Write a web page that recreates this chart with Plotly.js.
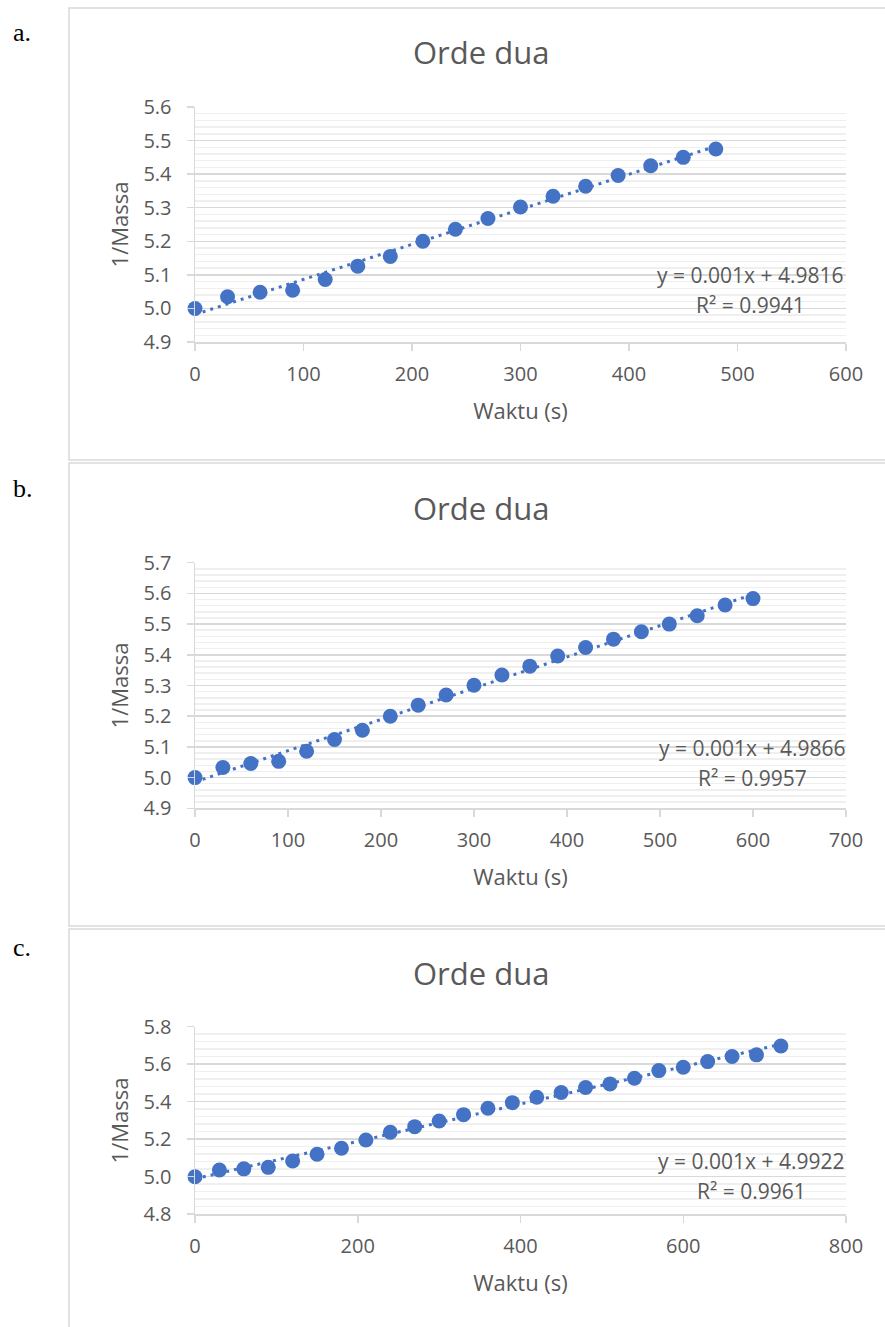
<!DOCTYPE html>
<html>
<head>
<meta charset="utf-8">
<script src="https://cdn.plot.ly/plotly-3.0.1.min.js"></script>
<style>
html,body{margin:0;padding:0;background:#fff;}
#chart{width:885px;height:1327px;}
</style>
</head>
<body>
<div id="chart"></div>
<script>
// ---------- DATA ----------
var panelLabels = ["a.", "b.", "c."];
var chartTitle = "Orde dua";
var xAxisTitle = "Waktu (s)";
var yAxisTitle = "1/Massa";

var timeA = [0, 30, 60, 90, 120, 150, 180, 210, 240, 270, 300, 330, 360, 390, 420, 450, 480];
var massA = [5.000, 5.035, 5.048, 5.054, 5.086, 5.126, 5.155, 5.200, 5.236, 5.268, 5.302, 5.334, 5.364, 5.396, 5.425, 5.450, 5.475];

var timeB = [0, 30, 60, 90, 120, 150, 180, 210, 240, 270, 300, 330, 360, 390, 420, 450, 480, 510, 540, 570, 600];
var massB = [5.000, 5.033, 5.046, 5.053, 5.086, 5.124, 5.154, 5.200, 5.236, 5.269, 5.301, 5.334, 5.363, 5.396, 5.424, 5.451, 5.475, 5.500, 5.527, 5.562, 5.583];

var timeC = [0, 30, 60, 90, 120, 150, 180, 210, 240, 270, 300, 330, 360, 390, 420, 450, 480, 510, 540, 570, 600, 630, 660, 690, 720];
var massC = [5.000, 5.036, 5.042, 5.050, 5.084, 5.120, 5.152, 5.196, 5.237, 5.267, 5.297, 5.331, 5.365, 5.395, 5.424, 5.449, 5.476, 5.495, 5.525, 5.566, 5.584, 5.614, 5.641, 5.650, 5.697];

var equations = ["y = 0.001x + 4.9816", "y = 0.001x + 4.9866", "y = 0.001x + 4.9922"];
var rSquared = ["R² = 0.9941", "R² = 0.9957", "R² = 0.9961"];

var xRanges = [[0, 600], [0, 700], [0, 800]];
var yRanges = [[4.9, 5.6], [4.9, 5.7], [4.8, 5.8]];
var yMajor = [0.1, 0.1, 0.2];
var xMajor = [100, 100, 200];

// ---------- LAYOUT (pixel geometry) ----------
var W = 885, H = 1327;
function px(x){ return x / W; }
function py(y){ return 1 - y / H; }

var panels = [
  {x: timeA, y: massA, boxTop: 8,   boxBot: 460,  plotTop: 107,   plotBot: 342,    title: 52,   label: 32,  eq: 275,  eqX: 750},
  {x: timeB, y: massB, boxTop: 463, boxBot: 926,  plotTop: 562.7, plotBot: 808.3,  title: 508,  label: 488, eq: 748,  eqX: 752},
  {x: timeC, y: massC, boxTop: 929, boxBot: 1340, plotTop: 1026.7, plotBot: 1214.2, title: 973, label: 947, eq: 1161, eqX: 751}
];
var plotL = 195, plotR = 846;

function linFit(xs, ys){
  var n = xs.length, sx = 0, sy = 0, sxx = 0, sxy = 0;
  for (var i = 0; i < n; i++){ sx += xs[i]; sy += ys[i]; sxx += xs[i]*xs[i]; sxy += xs[i]*ys[i]; }
  var m = (n*sxy - sx*sy) / (n*sxx - sx*sx);
  var b = (sy - m*sx) / n;
  return {m: m, b: b};
}

var BLUE = '#4472C4', TXT = '#595959', GRID = '#d9d9d9', MINOR = '#efefef';
var FONT = 'Open Sans, Noto Sans, sans-serif';

var traces = [], annotations = [], shapes = [];
var layout = {
  width: W, height: H,
  margin: {l: 0, r: 0, t: 0, b: 0},
  paper_bgcolor: '#ffffff', plot_bgcolor: '#ffffff',
  showlegend: false,
  font: {family: FONT, color: TXT, size: 20}
};

panels.forEach(function(p, i){
  var sfx = i === 0 ? '' : String(i + 1);
  var xa = 'x' + sfx, ya = 'y' + sfx;
  var fit = linFit(p.x, p.y);
  var x0 = p.x[0], x1 = p.x[p.x.length - 1];

  traces.push({
    type: 'scatter', mode: 'markers', x: p.x, y: p.y, xaxis: xa, yaxis: ya,
    marker: {color: BLUE, size: 15}, cliponaxis: false, hoverinfo: 'x+y'
  });
  traces.push({
    type: 'scatter', mode: 'lines', x: [x0, x1], y: [fit.b + fit.m*x0, fit.b + fit.m*x1],
    xaxis: xa, yaxis: ya, line: {color: BLUE, width: 3, dash: '3px,5px'}, cliponaxis: false, hoverinfo: 'skip'
  });

  layout['xaxis' + sfx] = {
    anchor: ya, domain: [px(plotL), px(plotR)], range: xRanges[i],
    dtick: xMajor[i], tick0: 0, showgrid: false, zeroline: false,
    showline: true, linecolor: GRID, linewidth: 1.5,
    ticks: 'outside', ticklen: 7, tickcolor: GRID, tickwidth: 1.5,
    tickfont: {family: FONT, size: 20, color: TXT}, ticklabelstandoff: 6,
    title: {text: xAxisTitle, font: {family: FONT, size: 22, color: TXT}, standoff: 18},
    fixedrange: true
  };
  layout['yaxis' + sfx] = {
    anchor: xa, domain: [py(p.plotBot), py(p.plotTop)], range: yRanges[i],
    dtick: yMajor[i], tick0: 0, tickformat: '.1f',
    showgrid: true, gridcolor: GRID, gridwidth: 1.5, zeroline: false,
    showline: true, linecolor: GRID, linewidth: 1.5,
    ticks: 'outside', ticklen: 7, tickcolor: GRID, tickwidth: 1.5,
    tickfont: {family: FONT, size: 20, color: TXT}, ticklabelstandoff: 11,
    minor: {dtick: yMajor[i] / 5, showgrid: true, gridcolor: MINOR, gridwidth: 1.5, ticks: ''},
    title: {text: yAxisTitle, font: {family: FONT, size: 22, color: TXT}, standoff: 8},
    fixedrange: true
  };

  // chart box
  shapes.push({type: 'rect', xref: 'paper', yref: 'paper',
    x0: px(69), x1: px(900), y0: py(p.boxBot), y1: py(p.boxTop),
    line: {color: GRID, width: 1.5}, fillcolor: 'rgba(0,0,0,0)', layer: 'below'});

  // chart title
  annotations.push({xref: 'paper', yref: 'paper', x: px(481), y: py(p.title),
    xanchor: 'center', yanchor: 'middle', showarrow: false, text: chartTitle,
    font: {family: FONT, size: 31, color: TXT}});
  // panel label
  annotations.push({xref: 'paper', yref: 'paper', x: px(11), y: py(p.label),
    xanchor: 'left', yanchor: 'middle', showarrow: false, text: panelLabels[i],
    font: {family: 'Liberation Serif, Times New Roman, serif', size: 26, color: '#000000'}});
  // trendline equation
  annotations.push({xref: 'paper', yref: 'paper', x: px(p.eqX), y: py(p.eq),
    xanchor: 'center', yanchor: 'middle', showarrow: false, text: equations[i],
    font: {family: FONT, size: 21, color: TXT}});
  annotations.push({xref: 'paper', yref: 'paper', x: px(p.eqX), y: py(p.eq + 30),
    xanchor: 'center', yanchor: 'middle', showarrow: false, text: rSquared[i],
    font: {family: FONT, size: 21, color: TXT}});
});

layout.annotations = annotations;
layout.shapes = shapes;

Plotly.newPlot('chart', traces, layout, {staticPlot: true, displayModeBar: false});
</script>
</body>
</html>
